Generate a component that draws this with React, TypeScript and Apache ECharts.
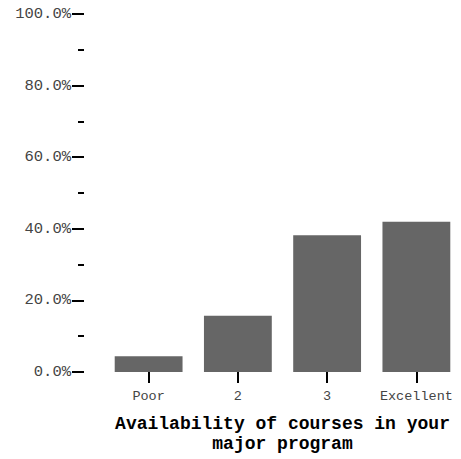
import React, { useEffect, useRef } from "react";
import * as echarts from "echarts";

const categories = ["Poor", "2", "3", "Excellent"];
const values = [4.4, 15.7, 38.2, 42.0];
const axisTitle = "Availability of courses in your\nmajor program";

const FONT = "'Courier New', Courier, 'Liberation Mono', monospace";

export default function App() {
  const ref = useRef<HTMLDivElement>(null);
  useEffect(() => {
    if (!ref.current) return;
    const chart = echarts.init(ref.current, undefined, { renderer: "svg" });
    chart.setOption({
      animation: false,
      backgroundColor: "#ffffff",
      grid: { left: 104, width: 359, top: 14, bottom: 81, containLabel: false },
      xAxis: {
        type: "category",
        data: categories,
        axisLine: { show: false },
        axisTick: { show: true, alignWithLabel: true, length: 11, lineStyle: { color: "#000", width: 2 } },
        axisLabel: { interval: 0, margin: 17, fontFamily: FONT, fontSize: 13.5, color: "#444" },
        name: axisTitle,
        nameLocation: "middle",
        nameGap: 42,
        nameTextStyle: { fontFamily: FONT, fontSize: 18, fontWeight: "bold", color: "#000", lineHeight: 20 },
      },
      yAxis: {
        type: "value",
        min: 0,
        max: 100,
        interval: 20,
        offset: 20,
        axisLine: { show: false },
        splitLine: { show: false },
        axisTick: { show: true, length: 12, lineStyle: { color: "#000", width: 2 } },
        minorTick: { show: true, splitNumber: 2, length: 6, lineStyle: { color: "#000", width: 2 } },
        axisLabel: {
          margin: 13,
          fontFamily: FONT,
          fontSize: 15.5,
          color: "#444",
          formatter: (v: number) => v.toFixed(1) + "%",
        },
      },
      series: [
        {
          type: "bar",
          data: values,
          barCategoryGap: "24%",
          itemStyle: { color: "#666666" },
        },
      ],
    });
    return () => chart.dispose();
  }, []);
  return (
    <div
      ref={ref}
      style={{ position: "fixed", left: 0, top: 0, width: 461, height: 459 }}
    />
  );
}
